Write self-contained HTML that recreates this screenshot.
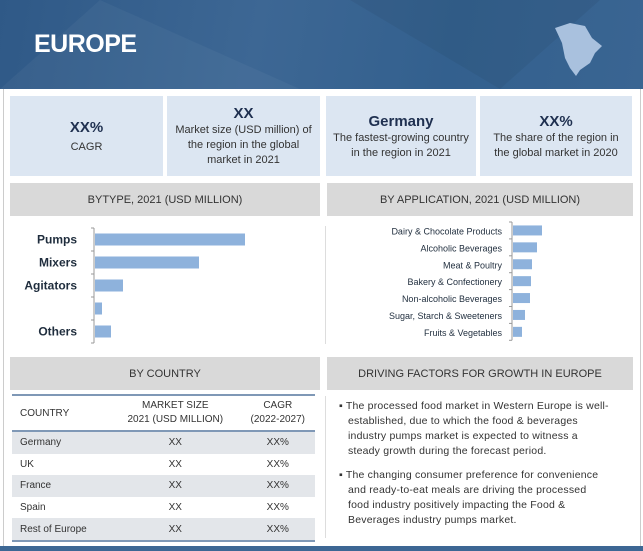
<!DOCTYPE html>
<html><head><meta charset="utf-8"><style>
body{margin:0;width:643px;height:551px;background:#fff;font-family:"Liberation Sans",sans-serif;position:relative;overflow:hidden;color:#1f2d3d}
.abs{position:absolute}
.kpi{position:absolute;top:96px;height:80px;background:#dce6f2;text-align:center;font-size:11px;line-height:15px;color:#333;display:flex;flex-direction:column;justify-content:center}
.kpi b{font-size:15px;color:#1f3050;line-height:19px;font-weight:bold}
.hdr{position:absolute;height:33px;background:#d9d9d9;font-size:11px;color:#333;display:flex;align-items:center;justify-content:center}
table{border-collapse:collapse;font-size:10px;color:#333}
td{height:21.6px;padding:0}
</style></head><body>
<div class="abs" style="left:3px;top:88px;width:636px;height:458px;border-left:1px solid #ccc;border-right:1px solid #ccc"></div>
<div class="abs" style="left:0;top:0;width:643px;height:89px;background:linear-gradient(100deg,#2f5987 0%,#3d6794 40%,#33608e 70%,#3a6592 100%)">
<svg width="643" height="89" style="position:absolute;left:0;top:0"><polygon points="100,0 300,89 0,89" fill="#ffffff" opacity="0.04"/><polygon points="350,0 500,89 600,0" fill="#000" opacity="0.05"/></svg>
<div class="abs" style="left:34px;top:30px;font-size:25px;font-weight:bold;color:#fff;letter-spacing:-0.5px">EUROPE</div>
<svg class="abs" style="left:550px;top:18px" width="60" height="60"><path d="M5,10 L20,5 L35,8 L42,20 L52,28 L45,35 L40,45 L30,52 L26,58 L20,50 L15,40 L12,25 Z" fill="#a9c1de"/></svg>
</div>
<div class="kpi" style="left:10px;width:153px"><b>XX%</b><span style="margin-top:3px">CAGR</span></div>
<div class="kpi" style="left:167px;width:153px"><b>XX</b>Market size (USD million) of<br>the region in the global<br>market in 2021</div>
<div class="kpi" style="left:326px;width:150px"><b>Germany</b>The fastest-growing country<br>in the region in 2021</div>
<div class="kpi" style="left:480px;width:152px"><b>XX%</b>The share of the region in<br>the global market in 2020</div>

<div class="hdr" style="left:10px;top:183px;width:310px">BYTYPE, 2021 (USD MILLION)</div>
<div class="hdr" style="left:327px;top:183px;width:306px">BY APPLICATION, 2021 (USD MILLION)</div>
<div class="abs" style="left:325px;top:226px;width:1px;height:118px;background:#ddd"></div>
<svg class="abs" id="typeChart" style="left:0;top:220px" width="320" height="130"></svg>
<svg class="abs" id="appChart" style="left:326px;top:220px" width="310" height="130"></svg>

<div class="hdr" style="left:10px;top:357px;width:310px">BY COUNTRY</div>
<div class="hdr" style="left:327px;top:357px;width:306px">DRIVING FACTORS FOR GROWTH IN EUROPE</div>
<table class="abs" style="left:12px;top:394px;width:303px;border-top:2px solid #7f98b6;border-bottom:2px solid #7f98b6">
<tr style="border-bottom:2px solid #7f98b6"><td style="height:34px;padding-left:8px;width:90px">COUNTRY</td><td style="text-align:center;line-height:14px">MARKET SIZE<br>2021 (USD MILLION)</td><td style="text-align:center;line-height:14px">CAGR<br>(2022-2027)</td></tr>
<tr style="background:#e3e6ea"><td style="padding-left:8px">Germany</td><td style="text-align:center">XX</td><td style="text-align:center">XX%</td></tr>
<tr><td style="padding-left:8px">UK</td><td style="text-align:center">XX</td><td style="text-align:center">XX%</td></tr>
<tr style="background:#e3e6ea"><td style="padding-left:8px">France</td><td style="text-align:center">XX</td><td style="text-align:center">XX%</td></tr>
<tr><td style="padding-left:8px">Spain</td><td style="text-align:center">XX</td><td style="text-align:center">XX%</td></tr>
<tr style="background:#e3e6ea"><td style="padding-left:8px">Rest of Europe</td><td style="text-align:center">XX</td><td style="text-align:center">XX%</td></tr>
</table>
<div class="abs" style="left:325px;top:396px;width:1px;height:142px;background:#ddd"></div>
<div class="abs" style="left:337px;top:399px;width:272px;font-size:10.5px;line-height:15px;color:#333;letter-spacing:0.2px">
<div style="padding-left:11px;text-indent:-9px">▪ The processed food market in Western Europe is well-established, due to which the food &amp; beverages industry pumps market is expected to witness a steady growth during the forecast period.</div>
<div style="padding-left:11px;text-indent:-9px;margin-top:9px">▪ The changing consumer preference for convenience and ready-to-eat meals are driving the processed food industry positively impacting the Food &amp; Beverages industry pumps market.</div>
</div>
<div class="abs" style="left:0;top:546px;width:643px;height:5px;background:#3d6794"></div>
<script>
const typeCats=["Pumps","Mixers","Agitators","","Others"];
const typeVals=[150,104,28,7,16];
const appCats=["Dairy & Chocolate Products","Alcoholic Beverages","Meat & Poultry","Bakery & Confectionery","Non-alcoholic Beverages","Sugar, Starch & Sweeteners","Fruits & Vegetables"];
const appVals=[29,24,19,18,17,12,9];
const NS="http://www.w3.org/2000/svg";
function mk(svg,tag,at){const e=document.createElementNS(NS,tag);for(const k in at)e.setAttribute(k,at[k]);svg.appendChild(e);return e;}
function draw(id,cats,vals,x0,y0,step,bh,scale,fs,bold,pre,lx){
 const svg=document.getElementById(id);
 const ax=mk(svg,'line',{x1:x0,x2:x0,y1:y0-5,y2:y0+cats.length*step-5,stroke:'#999'});
 
 
 cats.forEach((c,i)=>{
  const yc=y0+i*step+step/2-5;
  const tk=mk(svg,'line',{x1:x0-3,x2:x0,y1:y0+i*step-5,y2:y0+i*step-5,stroke:'#999'});
  
  
  const r=mk(svg,'rect',{x:x0+1,y:yc-bh/2,width:vals[i]*scale,height:bh,fill:'#8eb2dc'});
  
  
  const t=mk(svg,'text',{x:lx,y:yc+4,'text-anchor':'end','font-size':fs,'font-weight':bold?'bold':'normal',fill:'#1f2d3d','font-family':'Liberation Sans, sans-serif'});
  t.textContent=c;
  
  
 });
 mk(svg,'line',{x1:x0-3,x2:x0,y1:y0+cats.length*step-5,y2:y0+cats.length*step-5,stroke:'#999'});
}
draw('typeChart',typeCats,typeVals,94,13,23,12,1.0,12,true,'type',77);
draw('appChart',appCats,appVals,186,7,16.9,10,1.0,9,false,'app',176);
</script>
</body></html>
